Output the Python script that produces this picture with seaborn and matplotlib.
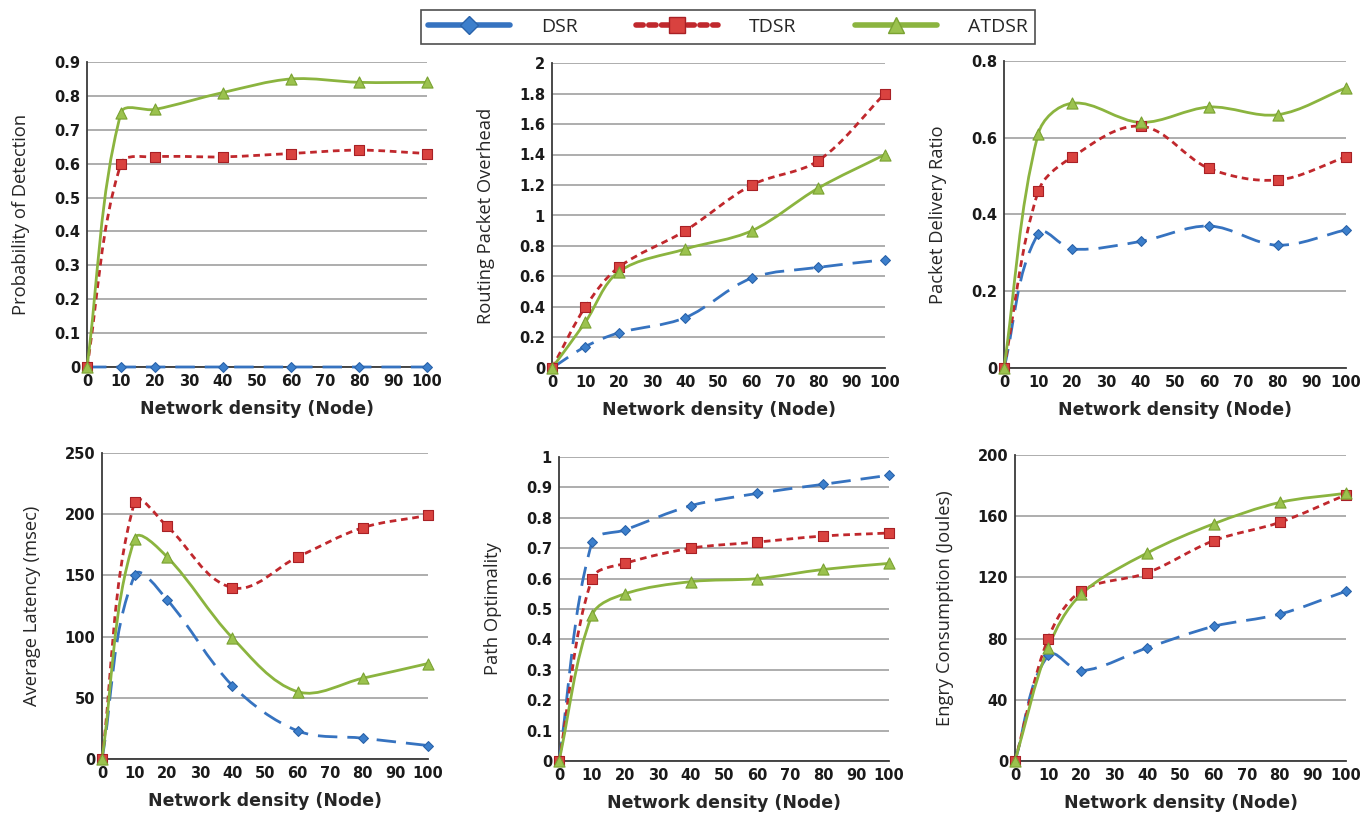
import numpy as np
import pandas as pd
import matplotlib
matplotlib.use("Agg")
import matplotlib.pyplot as plt
import seaborn as sns
from matplotlib.path import Path
from matplotlib.patches import PathPatch
from matplotlib.lines import Line2D

# ---------------- data ----------------
nodes = [0, 10, 20, 40, 60, 80, 100]
x_ticks = [0, 10, 20, 30, 40, 50, 60, 70, 80, 90, 100]
protocols = ["DSR", "TDSR", "ATDSR"]

detection_dsr = [0, 0, 0, 0, 0, 0, 0]
detection_tdsr = [0, 0.60, 0.62, 0.62, 0.63, 0.64, 0.63]
detection_atdsr = [0, 0.75, 0.76, 0.81, 0.85, 0.84, 0.84]

overhead_dsr = [0, 0.14, 0.23, 0.33, 0.59, 0.66, 0.71]
overhead_tdsr = [0, 0.40, 0.66, 0.90, 1.20, 1.36, 1.80]
overhead_atdsr = [0, 0.30, 0.63, 0.78, 0.90, 1.18, 1.40]

pdr_dsr = [0, 0.35, 0.31, 0.33, 0.37, 0.32, 0.36]
pdr_tdsr = [0, 0.46, 0.55, 0.63, 0.52, 0.49, 0.55]
pdr_atdsr = [0, 0.61, 0.69, 0.64, 0.68, 0.66, 0.73]

latency_dsr = [0, 150, 130, 60, 23, 17, 11]
latency_tdsr = [0, 210, 190, 140, 165, 189, 199]
latency_atdsr = [0, 180, 165, 99, 55, 66, 78]

optimality_dsr = [0, 0.72, 0.76, 0.84, 0.88, 0.91, 0.94]
optimality_tdsr = [0, 0.60, 0.65, 0.70, 0.72, 0.74, 0.75]
optimality_atdsr = [0, 0.48, 0.55, 0.59, 0.60, 0.63, 0.65]

energy_dsr = [0, 69, 59, 74, 88, 96, 111]
energy_tdsr = [0, 80, 111, 123, 144, 156, 174]
energy_atdsr = [0, 74, 109, 136, 155, 169, 175]

y_labels = ["Probability of Detection", "Routing Packet Overhead", "Packet Delivery Ratio",
            "Average Latency (msec)", "Path Optimality", "Engry Consumption (Joules)"]
y_ticks = [
    [0, 0.1, 0.2, 0.3, 0.4, 0.5, 0.6, 0.7, 0.8, 0.9],
    [0, 0.2, 0.4, 0.6, 0.8, 1, 1.2, 1.4, 1.6, 1.8, 2],
    [0, 0.2, 0.4, 0.6, 0.8],
    [0, 50, 100, 150, 200, 250],
    [0, 0.1, 0.2, 0.3, 0.4, 0.5, 0.6, 0.7, 0.8, 0.9, 1],
    [0, 40, 80, 120, 160, 200],
]
x_label = "Network density (Node)"

panels = [
    (detection_dsr, detection_tdsr, detection_atdsr),
    (overhead_dsr, overhead_tdsr, overhead_atdsr),
    (pdr_dsr, pdr_tdsr, pdr_atdsr),
    (latency_dsr, latency_tdsr, latency_atdsr),
    (optimality_dsr, optimality_tdsr, optimality_atdsr),
    (energy_dsr, energy_tdsr, energy_atdsr),
]

# ---------------- style ----------------
sns.set_style("white")
plt.rcParams["font.family"] = ["DejaVu Sans"]

colors = {"DSR": "#3673C0", "TDSR": "#C0282D", "ATDSR": "#8BB43F"}
face = {"DSR": "#3C7FCC", "TDSR": "#D9423F", "ATDSR": "#9BC24E"}
edge = {"DSR": "#2A63AA", "TDSR": "#A82025", "ATDSR": "#7AA232"}
markers = {"DSR": "D", "TDSR": "s", "ATDSR": "^"}
msizes = {"DSR": 5, "TDSR": 7.5, "ATDSR": 8}
dashes = {"DSR": (0, (7, 3.6)), "TDSR": (0, (2.4, 1.7)), "ATDSR": "solid"}
lw = 2.0
tension = 0.22

positions = [
    (87, 62, 427, 367), (552, 63, 885, 368), (1004, 61, 1346, 368),
    (102, 453, 428, 759), (559, 457, 889, 761), (1015, 455, 1346, 761),
]
W, H = 1364, 814


def smooth_path(xs, ys, sx, sy):
    """Smooth curve through the points (cubic Bezier, handles in screen space)."""
    pts = np.column_stack([np.asarray(xs, float) * sx, np.asarray(ys, float) * sy])
    n = len(pts)
    verts = [pts[0]]
    codes = [Path.MOVETO]

    def tangent(i):
        a = pts[max(i - 1, 0)]
        b = pts[min(i + 1, n - 1)]
        d = b - a
        nrm = np.hypot(*d)
        return d / nrm if nrm > 0 else d

    for i in range(n - 1):
        p1, p2 = pts[i], pts[i + 1]
        seg = np.hypot(*(p2 - p1))
        c1 = p1 + tangent(i) * seg * tension * 1.5
        c2 = p2 - tangent(i + 1) * seg * tension * 1.5
        verts += [c1, c2, p2]
        codes += [Path.CURVE4] * 3
    verts = np.array(verts)
    verts[:, 0] /= sx
    verts[:, 1] /= sy
    return Path(verts, codes)


fig = plt.figure(figsize=(W / 100, H / 100), dpi=100)

for k, (series, ylab, yt, pos) in enumerate(zip(panels, y_labels, y_ticks, positions)):
    l, t, r, b = pos
    ax = fig.add_axes([l / W, 1 - b / H, (r - l) / W, (b - t) / H])
    sx = (r - l) / 100.0
    sy = (b - t) / (yt[-1] - yt[0])
    df = pd.DataFrame({"x": nodes * 3,
                       "y": list(series[0]) + list(series[1]) + list(series[2]),
                       "protocol": sum([[p] * len(nodes) for p in protocols], [])})
    for p in protocols:
        sub = df[df["protocol"] == p]
        path = smooth_path(sub["x"].values, sub["y"].values, sx, sy)
        patch = PathPatch(path, facecolor="none", edgecolor=colors[p], lw=lw,
                          linestyle=dashes[p], capstyle="butt", zorder=3, clip_on=False)
        ax.add_patch(patch)
        sns.scatterplot(data=sub, x="x", y="y", ax=ax, marker=markers[p],
                        s=msizes[p] ** 2, color=face[p], edgecolor=edge[p],
                        linewidth=0.8, zorder=4, clip_on=False, legend=False)
    ax.set_xlim(0, 100)
    ax.set_ylim(yt[0], yt[-1])
    ax.set_xticks(x_ticks)
    ax.set_yticks(yt)
    ax.set_yticklabels([f"{v:g}" for v in yt])
    ax.yaxis.grid(True, color="#A0A0A0", lw=1.2)
    ax.xaxis.grid(False)
    ax.set_axisbelow(True)
    for s in ["top", "right"]:
        ax.spines[s].set_visible(False)
    for s in ["left", "bottom"]:
        ax.spines[s].set_color("#3A3A3A")
        ax.spines[s].set_linewidth(1.3)
        ax.spines[s].set_zorder(2)
    ax.tick_params(axis="both", length=0, labelsize=10.5, pad=5, colors="#1A1A1A")
    for lab in ax.get_xticklabels() + ax.get_yticklabels():
        lab.set_fontweight("bold")
    ax.set_xlabel(x_label, fontsize=12.5, fontweight="bold", labelpad=8)
    ax.set_ylabel(ylab, fontsize=13.2, family="Open Sans", labelpad=17)

handles = [Line2D([0], [0], color=colors[p], lw=4,
                  linestyle="solid" if p != "TDSR" else (0, (1.3, 1.0)),
                  marker=markers[p], markersize=msizes[p] + 4, markerfacecolor=face[p],
                  markeredgecolor=edge[p], solid_capstyle="round", dash_capstyle="round")
           for p in protocols]
leg = fig.legend(handles, protocols, loc="center", bbox_to_anchor=(728 / W, 1 - 27 / H),
                 ncol=3, frameon=True, fancybox=False, edgecolor="#222222",
                 fontsize=14, handlelength=4.2, columnspacing=3.0, handletextpad=1.6,
                 borderpad=0.4)
leg.get_frame().set_linewidth(1.2)
for txt in leg.get_texts():
    txt.set_family("Open Sans")

fig.savefig("out.png", dpi=100)
